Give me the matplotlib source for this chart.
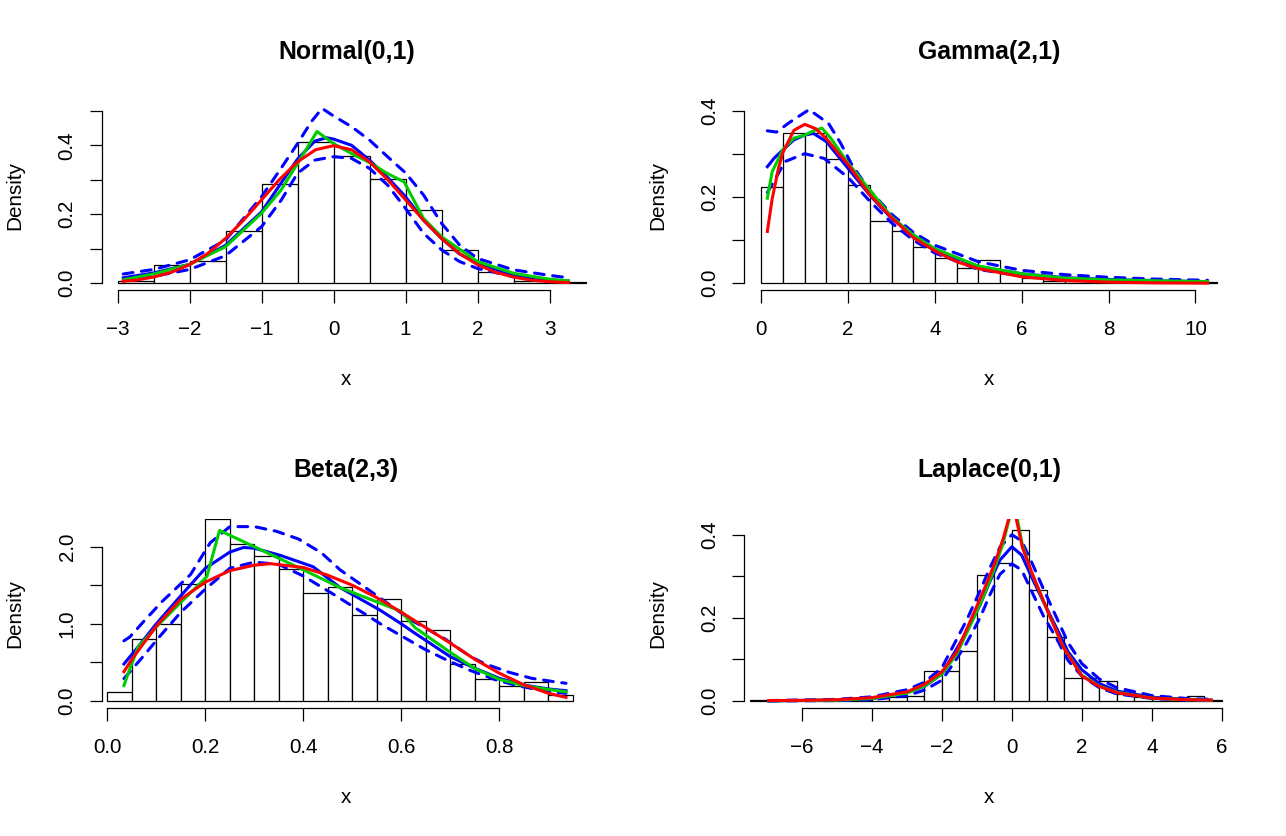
import matplotlib
matplotlib.use("Agg")
import matplotlib.pyplot as plt
import numpy as np

plt.rcParams['font.family'] = ['Liberation Sans', 'DejaVu Sans']

BLUE = '#0000FF'
RED = '#FF0000'
GREEN = '#00CD00'

# ---------------- Normal(0,1) ----------------
norm_edges = [-3, -2.5, -2, -1.5, -1, -0.5, 0, 0.5, 1, 1.5, 2, 2.5, 3, 3.5]
norm_dens = [0.007, 0.053, 0.064, 0.152, 0.287, 0.41, 0.368, 0.302, 0.212,
             0.096, 0.032, 0.008, 0.003]
norm_red_x = [-2.92, -2.75, -2.5, -2.25, -2, -1.75, -1.5, -1.25, -1, -0.75, -0.5,
              -0.25, 0, 0.25, 0.5, 0.75, 1, 1.25, 1.5, 1.75, 2, 2.25, 2.5, 2.75, 3, 3.26]
norm_red_y = [0.006, 0.009, 0.018, 0.032, 0.054, 0.086, 0.13, 0.183, 0.242, 0.301,
              0.352, 0.387, 0.399, 0.387, 0.352, 0.301, 0.242, 0.183, 0.13, 0.086,
              0.054, 0.032, 0.018, 0.009, 0.0045, 0.002]
norm_blue_x = [-2.92, -2.5, -2, -1.5, -1, -0.73, -0.5, -0.26, -0.1, 0, 0.25, 0.5,
               0.75, 1, 1.25, 1.5, 1.75, 2, 2.5, 3, 3.26]
norm_blue_y = [0.016, 0.03, 0.055, 0.11, 0.207, 0.29, 0.36, 0.412, 0.422, 0.418,
               0.40, 0.357, 0.307, 0.251, 0.183, 0.13, 0.085, 0.058, 0.024, 0.01, 0.007]
norm_green_x = [-2.92, -2.5, -2, -1.5, -1, -0.73, -0.5, -0.23, 0, 0.25, 0.5, 0.75,
                0.98, 1.25, 1.5, 2, 2.5, 3, 3.26]
norm_green_y = [0.01, 0.027, 0.055, 0.106, 0.203, 0.27, 0.347, 0.44, 0.405, 0.376,
                0.35, 0.318, 0.294, 0.188, 0.135, 0.063, 0.029, 0.012, 0.007]
norm_up_x = [-2.92, -2.5, -2, -1.5, -1, -0.73, -0.5, -0.31, -0.16, 0, 0.25, 0.5,
             0.75, 1, 1.25, 1.5, 1.75, 2, 2.5, 3, 3.26]
norm_up_y = [0.027, 0.04, 0.068, 0.125, 0.251, 0.333, 0.405, 0.468, 0.507, 0.485,
             0.454, 0.415, 0.367, 0.32, 0.256, 0.174, 0.111, 0.072, 0.039, 0.023, 0.016]
norm_lo_x = [-2.92, -2.5, -2, -1.5, -1, -0.73, -0.5, -0.26, 0, 0.25, 0.5, 0.75, 1,
             1.25, 1.5, 1.75, 2, 2.5, 3, 3.26]
norm_lo_y = [0.007, 0.02, 0.04, 0.08, 0.164, 0.24, 0.319, 0.357, 0.367, 0.362,
             0.333, 0.285, 0.217, 0.145, 0.097, 0.063, 0.043, 0.019, 0.008, 0.005]

# ---------------- Gamma(2,1) ----------------
gam_edges = [0, 0.5, 1, 1.5, 2, 2.5, 3, 3.5, 4, 4.5, 5, 5.5, 6, 6.5, 7, 7.5, 8,
             8.5, 9, 9.5, 10, 10.5]
gam_dens = [0.224, 0.348, 0.348, 0.288, 0.228, 0.144, 0.12, 0.085, 0.059, 0.036,
            0.053, 0.023, 0.012, 0.006, 0.005, 0.004, 0.003, 0.009, 0.002, 0.0, 0.002]
gam_red_x = [0.14, 0.25, 0.4, 0.5, 0.75, 1, 1.25, 1.5, 1.75, 2, 2.5, 3, 3.5, 4,
             4.5, 5, 6, 7, 8, 9, 10.28]
gam_red_y = [0.12, 0.195, 0.268, 0.303, 0.354, 0.368, 0.358, 0.335, 0.304, 0.275,
             0.205, 0.152, 0.106, 0.075, 0.05, 0.034, 0.015, 0.0064, 0.0027, 0.0011, 0.0004]
gam_blue_x = [0.14, 0.3, 0.5, 0.75, 1, 1.2, 1.5, 2, 2.5, 3, 3.5, 4, 5, 6, 7, 8, 9, 10.28]
gam_blue_y = [0.27, 0.29, 0.309, 0.332, 0.343, 0.347, 0.328, 0.266, 0.204, 0.15,
              0.112, 0.078, 0.039, 0.022, 0.013, 0.009, 0.006, 0.004]
gam_green_x = [0.14, 0.25, 0.5, 0.75, 1, 1.25, 1.4, 1.6, 2, 2.5, 3, 3.5, 4, 5, 6,
               7, 8, 9, 10.28]
gam_green_y = [0.197, 0.258, 0.31, 0.336, 0.343, 0.355, 0.359, 0.336, 0.278, 0.216,
               0.154, 0.112, 0.08, 0.04, 0.022, 0.012, 0.008, 0.006, 0.004]
gam_up_x = [0.14, 0.35, 0.66, 1.1, 1.55, 1.83, 2.1, 2.5, 3, 3.5, 4, 5, 6, 7, 8, 9, 10.28]
gam_up_y = [0.353, 0.35, 0.373, 0.402, 0.37, 0.324, 0.272, 0.215, 0.16, 0.118,
            0.088, 0.05, 0.03, 0.02, 0.014, 0.01, 0.007]
gam_lo_x = [0.14, 0.55, 1.0, 1.45, 2, 2.5, 3, 3.5, 4, 5, 6, 7, 8, 9, 10.28]
gam_lo_y = [0.21, 0.282, 0.30, 0.289, 0.245, 0.19, 0.14, 0.1, 0.07, 0.032, 0.017,
            0.009, 0.005, 0.003, 0.002]

# ---------------- Beta(2,3) ----------------
beta_edges = [0, 0.05, 0.1, 0.15, 0.2, 0.25, 0.3, 0.35, 0.4, 0.45, 0.5, 0.55, 0.6,
              0.65, 0.7, 0.75, 0.8, 0.85, 0.9, 0.95]
beta_dens = [0.117, 0.8, 1.0, 1.52, 2.354, 2.04, 1.88, 1.715, 1.395, 1.48, 1.12,
             1.32, 1.04, 0.92, 0.48, 0.28, 0.2, 0.24, 0.078]
beta_red_x = [0.034, 0.05, 0.1, 0.15, 0.2, 0.25, 0.3, 0.333, 0.4, 0.45, 0.5, 0.55,
              0.6, 0.65, 0.7, 0.75, 0.8, 0.85, 0.9, 0.936]
beta_red_y = [0.38, 0.54, 0.97, 1.32, 1.54, 1.69, 1.76, 1.78, 1.73, 1.63, 1.5, 1.34,
              1.15, 0.95, 0.75, 0.54, 0.36, 0.21, 0.1, 0.047]
beta_blue_x = [0.034, 0.06, 0.1, 0.148, 0.2, 0.25, 0.278, 0.3, 0.352, 0.42, 0.475,
               0.5, 0.556, 0.6, 0.628, 0.7, 0.75, 0.8, 0.85, 0.9, 0.936]
beta_blue_y = [0.48, 0.68, 1.0, 1.35, 1.72, 1.93, 1.99, 1.98, 1.89, 1.74, 1.47,
               1.38, 1.18, 1.0, 0.877, 0.574, 0.424, 0.294, 0.207, 0.156, 0.134]
beta_green_x = [0.034, 0.045, 0.063, 0.1, 0.155, 0.203, 0.229, 0.3, 0.4, 0.475,
                0.556, 0.6, 0.628, 0.7, 0.75, 0.8, 0.85, 0.9, 0.936]
beta_green_y = [0.2, 0.4, 0.7, 0.96, 1.31, 1.61, 2.21, 2.0, 1.7, 1.47, 1.27, 1.16,
                0.95, 0.63, 0.42, 0.28, 0.2, 0.15, 0.12]
beta_up_x = [0.034, 0.046, 0.077, 0.112, 0.17, 0.21, 0.25, 0.3, 0.345, 0.39, 0.437,
             0.475, 0.52, 0.56, 0.62, 0.69, 0.74, 0.77, 0.82, 0.866, 0.92, 0.936]
beta_up_y = [0.78, 0.83, 1.05, 1.29, 1.64, 2.05, 2.26, 2.26, 2.2, 2.1, 1.92, 1.7,
             1.5, 1.32, 1.05, 0.8, 0.58, 0.483, 0.372, 0.294, 0.242, 0.23]
beta_lo_x = [0.034, 0.073, 0.108, 0.15, 0.2, 0.25, 0.3, 0.35, 0.4, 0.47, 0.56,
             0.648, 0.693, 0.739, 0.79, 0.836, 0.9, 0.936]
beta_lo_y = [0.29, 0.576, 0.844, 1.15, 1.45, 1.72, 1.8, 1.77, 1.62, 1.35, 0.99,
             0.67, 0.53, 0.40, 0.28, 0.2, 0.12, 0.1]

# ---------------- Laplace(0,1) ----------------
lap_edges = [-7.5, -7, -6.5, -6, -5.5, -5, -4.5, -4, -3.5, -3, -2.5, -2, -1.5, -1,
             -0.5, 0, 0.5, 1, 1.5, 2, 2.5, 3, 3.5, 4, 4.5, 5, 5.5, 6]
lap_dens = [0.002, 0, 0, 0, 0, 0.001, 0.002, 0.006, 0.01, 0.012, 0.071, 0.071,
            0.121, 0.303, 0.331, 0.411, 0.267, 0.155, 0.056, 0.056, 0.048, 0.017,
            0.009, 0.004, 0.004, 0.012, 0.002]
lap_red_x = [-6.95, -6, -5, -4, -3, -2.5, -2, -1.58, -1.2, -0.82, -0.49, -0.25,
             -0.1, 0.02, 0.134, 0.3, 0.56, 0.99, 1.47, 2, 2.5, 3, 4, 5, 5.7]
lap_red_y = [0.001, 0.0015, 0.003, 0.008, 0.022, 0.04, 0.07, 0.118, 0.19, 0.263,
             0.331, 0.39, 0.435, 0.5, 0.435, 0.37, 0.311, 0.223, 0.13, 0.06, 0.035,
             0.02, 0.007, 0.003, 0.002]
lap_blue_x = [-6.95, -5, -4, -3, -2.5, -2, -1.63, -1.29, -0.91, -0.63, -0.34, 0,
              0.28, 0.56, 0.9, 1.28, 1.61, 2, 2.5, 3, 4, 5, 5.7]
lap_blue_y = [0.0005, 0.002, 0.006, 0.02, 0.035, 0.065, 0.118, 0.167, 0.231, 0.287,
              0.339, 0.371, 0.351, 0.299, 0.239, 0.175, 0.118, 0.075, 0.042, 0.024,
              0.009, 0.004, 0.002]
lap_green_x = [-6.95, -5, -4, -3, -2.5, -2, -1.58, -1.2, -0.82, -0.49, -0.25, -0.1,
               0.06, 0.3, 0.56, 1.0, 1.47, 2, 2.5, 3, 4, 5, 5.7]
lap_green_y = [0.0005, 0.002, 0.006, 0.019, 0.036, 0.065, 0.112, 0.18, 0.25, 0.32,
               0.38, 0.43, 0.48, 0.375, 0.31, 0.22, 0.13, 0.062, 0.036, 0.021,
               0.007, 0.003, 0.002]
lap_up_x = [-6.95, -5, -4, -3, -2.5, -2, -1.63, -1.29, -0.91, -0.63, -0.34, 0,
            0.28, 0.56, 0.9, 1.28, 1.61, 2, 2.5, 3, 4, 5, 5.7]
lap_up_y = [0.001, 0.004, 0.01, 0.027, 0.045, 0.08, 0.14, 0.195, 0.265, 0.32, 0.37,
            0.40, 0.385, 0.335, 0.27, 0.2, 0.14, 0.09, 0.053, 0.032, 0.013, 0.006, 0.004]
lap_lo_x = [-6.95, -5, -4, -3, -2.5, -2, -1.63, -1.29, -0.91, -0.63, -0.34, 0,
            0.28, 0.56, 0.9, 1.28, 1.61, 2, 2.5, 3, 4, 5, 5.7]
lap_lo_y = [0.0, 0.001, 0.003, 0.013, 0.026, 0.05, 0.095, 0.14, 0.2, 0.255, 0.305,
            0.33, 0.315, 0.265, 0.205, 0.15, 0.097, 0.06, 0.032, 0.017, 0.006,
            0.002, 0.001]

titles = ['Normal(0,1)', 'Gamma(2,1)', 'Beta(2,3)', 'Laplace(0,1)']

W, H = 1286, 836
fig = plt.figure(figsize=(W / 100, H / 100), dpi=100)

colx = [101.7, 744.3]
rowy = [290.3, 708.3]
pw, ph = 489.3, 189.0


def panel(col, row, title, edges, dens, up, lo, blue, green, red,
          xlim, ylim, xticks, xlabels, yticks, ylabels):
    ax = fig.add_axes([colx[col] / W, (H - rowy[row]) / H, pw / W, ph / H])
    ax.set_facecolor('none')
    edges = np.array(edges)
    ax.bar(edges[:-1], dens, width=np.diff(edges), align='edge', color='white',
           edgecolor='black', linewidth=0.9, zorder=1)
    for (xx, yy) in (up, lo):
        ax.plot(xx, yy, color=BLUE, lw=2.2, dashes=(3.2, 2.8),
                dash_capstyle='round', zorder=2)
    ax.plot(blue[0], blue[1], color=BLUE, lw=2.2, zorder=3)
    ax.plot(green[0], green[1], color=GREEN, lw=2.2, zorder=4)
    ax.plot(red[0], red[1], color=RED, lw=2.2, zorder=5)
    ax.set_xlim(xlim)
    ax.set_ylim(ylim)
    for s in ('top', 'right'):
        ax.spines[s].set_visible(False)
    ax.spines['left'].set_bounds(yticks[0], yticks[-1])
    ax.spines['bottom'].set_bounds(xticks[0], xticks[-1])
    for s in ('left', 'bottom'):
        ax.spines[s].set_linewidth(0.9)
    ax.set_xticks(xticks)
    ax.set_xticklabels(xlabels)
    ax.set_yticks(yticks)
    ax.set_yticklabels(ylabels, rotation=90, va='center')
    ax.tick_params(axis='both', length=9, width=0.9, labelsize=14.9)
    ax.tick_params(axis='x', pad=12.5)
    ax.tick_params(axis='y', pad=9)
    ax.text(0.5, 1.2624, title, transform=ax.transAxes, ha='center', va='center',
            fontsize=17.9, fontweight='bold')
    ax.text(0.5, -0.471, 'x', transform=ax.transAxes, ha='center', va='center',
            fontsize=14.9)
    ax.text(-0.1772, 0.5, 'Density', transform=ax.transAxes, ha='center',
            va='center', rotation=90, fontsize=14.9)
    return ax


panel(0, 0, titles[0], norm_edges, norm_dens,
      (norm_up_x, norm_up_y), (norm_lo_x, norm_lo_y), (norm_blue_x, norm_blue_y),
      (norm_green_x, norm_green_y), (norm_red_x, norm_red_y),
      (-3.22, 3.576), (-0.0203, 0.5275),
      [-3, -2, -1, 0, 1, 2, 3], ['\u22123', '\u22122', '\u22121', '0', '1', '2', '3'],
      [0, 0.1, 0.2, 0.3, 0.4, 0.5], ['0.0', '', '0.2', '', '0.4', ''])

panel(1, 0, titles[1], gam_edges, gam_dens,
      (gam_up_x, gam_up_y), (gam_lo_x, gam_lo_y), (gam_blue_x, gam_blue_y),
      (gam_green_x, gam_green_y), (gam_red_x, gam_red_y),
      (-0.391, 10.88), (-0.0162, 0.4213),
      [0, 2, 4, 6, 8, 10], ['0', '2', '4', '6', '8', '10'],
      [0, 0.1, 0.2, 0.3, 0.4], ['0.0', '', '0.2', '', '0.4'])

panel(0, 1, titles[2], beta_edges, beta_dens,
      (beta_up_x, beta_up_y), (beta_lo_x, beta_lo_y), (beta_blue_x, beta_blue_y),
      (beta_green_x, beta_green_y), (beta_red_x, beta_red_y),
      (-0.0114, 0.987), (-0.0946, 2.355),
      [0, 0.2, 0.4, 0.6, 0.8], ['0.0', '0.2', '0.4', '0.6', '0.8'],
      [0, 0.5, 1.0, 1.5, 2.0], ['0.0', '', '1.0', '', '2.0'])

panel(1, 1, titles[3], lap_edges, lap_dens,
      (lap_up_x, lap_up_y), (lap_lo_x, lap_lo_y), (lap_blue_x, lap_blue_y),
      (lap_green_x, lap_green_y), (lap_red_x, lap_red_y),
      (-7.65, 6.34), (-0.0176, 0.437),
      [-6, -4, -2, 0, 2, 4, 6], ['\u22126', '\u22124', '\u22122', '0', '2', '4', '6'],
      [0, 0.1, 0.2, 0.3, 0.4], ['0.0', '', '0.2', '', '0.4'])

fig.savefig('out.png', dpi=100)
